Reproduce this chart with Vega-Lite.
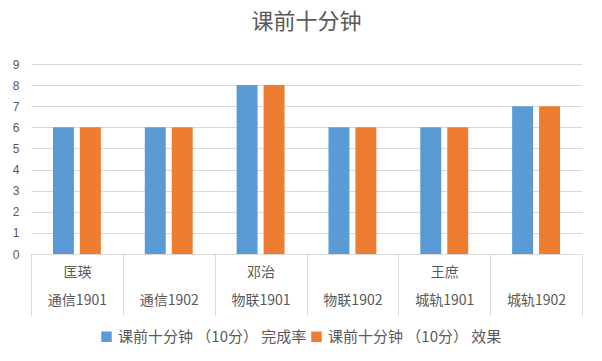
{
  "$schema": "https://vega.github.io/schema/vega-lite/v6.json",
  "autosize": "none",
  "width": 551,
  "height": 190,
  "padding": {"left": 31, "top": 64, "right": 20, "bottom": 107},
  "background": "white",
  "title": {"text": "课前十分钟", "font": "Noto Sans CJK SC", "fontSize": 22, "fontWeight": "normal", "color": "#595959", "anchor": "middle", "offset": 24},
  "data": {"values": [
    {"class": "通信1901", "series": "课前十分钟 （10分） 完成率", "value": 6},
    {"class": "通信1901", "series": "课前十分钟 （10分） 效果", "value": 6},
    {"class": "通信1902", "series": "课前十分钟 （10分） 完成率", "value": 6},
    {"class": "通信1902", "series": "课前十分钟 （10分） 效果", "value": 6},
    {"class": "物联1901", "series": "课前十分钟 （10分） 完成率", "value": 8},
    {"class": "物联1901", "series": "课前十分钟 （10分） 效果", "value": 8},
    {"class": "物联1902", "series": "课前十分钟 （10分） 完成率", "value": 6},
    {"class": "物联1902", "series": "课前十分钟 （10分） 效果", "value": 6},
    {"class": "城轨1901", "series": "课前十分钟 （10分） 完成率", "value": 6},
    {"class": "城轨1901", "series": "课前十分钟 （10分） 效果", "value": 6},
    {"class": "城轨1902", "series": "课前十分钟 （10分） 完成率", "value": 7},
    {"class": "城轨1902", "series": "课前十分钟 （10分） 效果", "value": 7}
  ]},
  "mark": {"type": "bar"},
  "encoding": {
    "x": {
      "field": "class", "type": "nominal", "sort": null,
      "scale": {"paddingInner": 0, "paddingOuter": 0},
      "axis": {
        "title": null, "labelAngle": 0,
        "labelExpr": "datum.label == '通信1901' ? ['匡瑛', datum.label] : datum.label == '物联1901' ? ['邓治', datum.label] : datum.label == '城轨1901' ? ['王庶', datum.label] : ['', datum.label]",
        "labelFont": "Noto Sans CJK SC", "labelFontSize": 14, "labelColor": "#595959",
        "labelLineHeight": 28, "labelBaseline": "middle",
        "tickBand": "extent", "tickSize": 61, "tickColor": "#D9D9D9",
        "labelPadding": -43,
        "domainColor": "#D9D9D9"
      }
    },
    "xOffset": {"field": "series", "type": "nominal", "scale": {"paddingInner": 0.222, "paddingOuter": 0.815}},
    "y": {
      "field": "value", "type": "quantitative",
      "scale": {"domain": [0, 9], "nice": false},
      "axis": {"title": null, "values": [0,1,2,3,4,5,6,7,8,9], "labelOverlap": false, "domain": false, "ticks": false, "labelFont": "Liberation Sans", "labelFontSize": 12, "labelColor": "#595959", "labelPadding": 12, "gridColor": "#D9D9D9"}
    },
    "color": {
      "field": "series", "type": "nominal",
      "scale": {"range": ["#5B9BD5", "#ED7D31"]},
      "legend": {"title": null, "orient": "none", "legendX": 68, "legendY": 265, "direction": "horizontal", "symbolType": "square", "symbolSize": 110, "symbolStrokeWidth": 0, "labelFont": "Noto Sans CJK SC", "labelFontSize": 15, "labelColor": "#595959", "columnPadding": 2, "labelLimit": 300}
    }
  },
  "config": {"view": {"stroke": null}}
}
